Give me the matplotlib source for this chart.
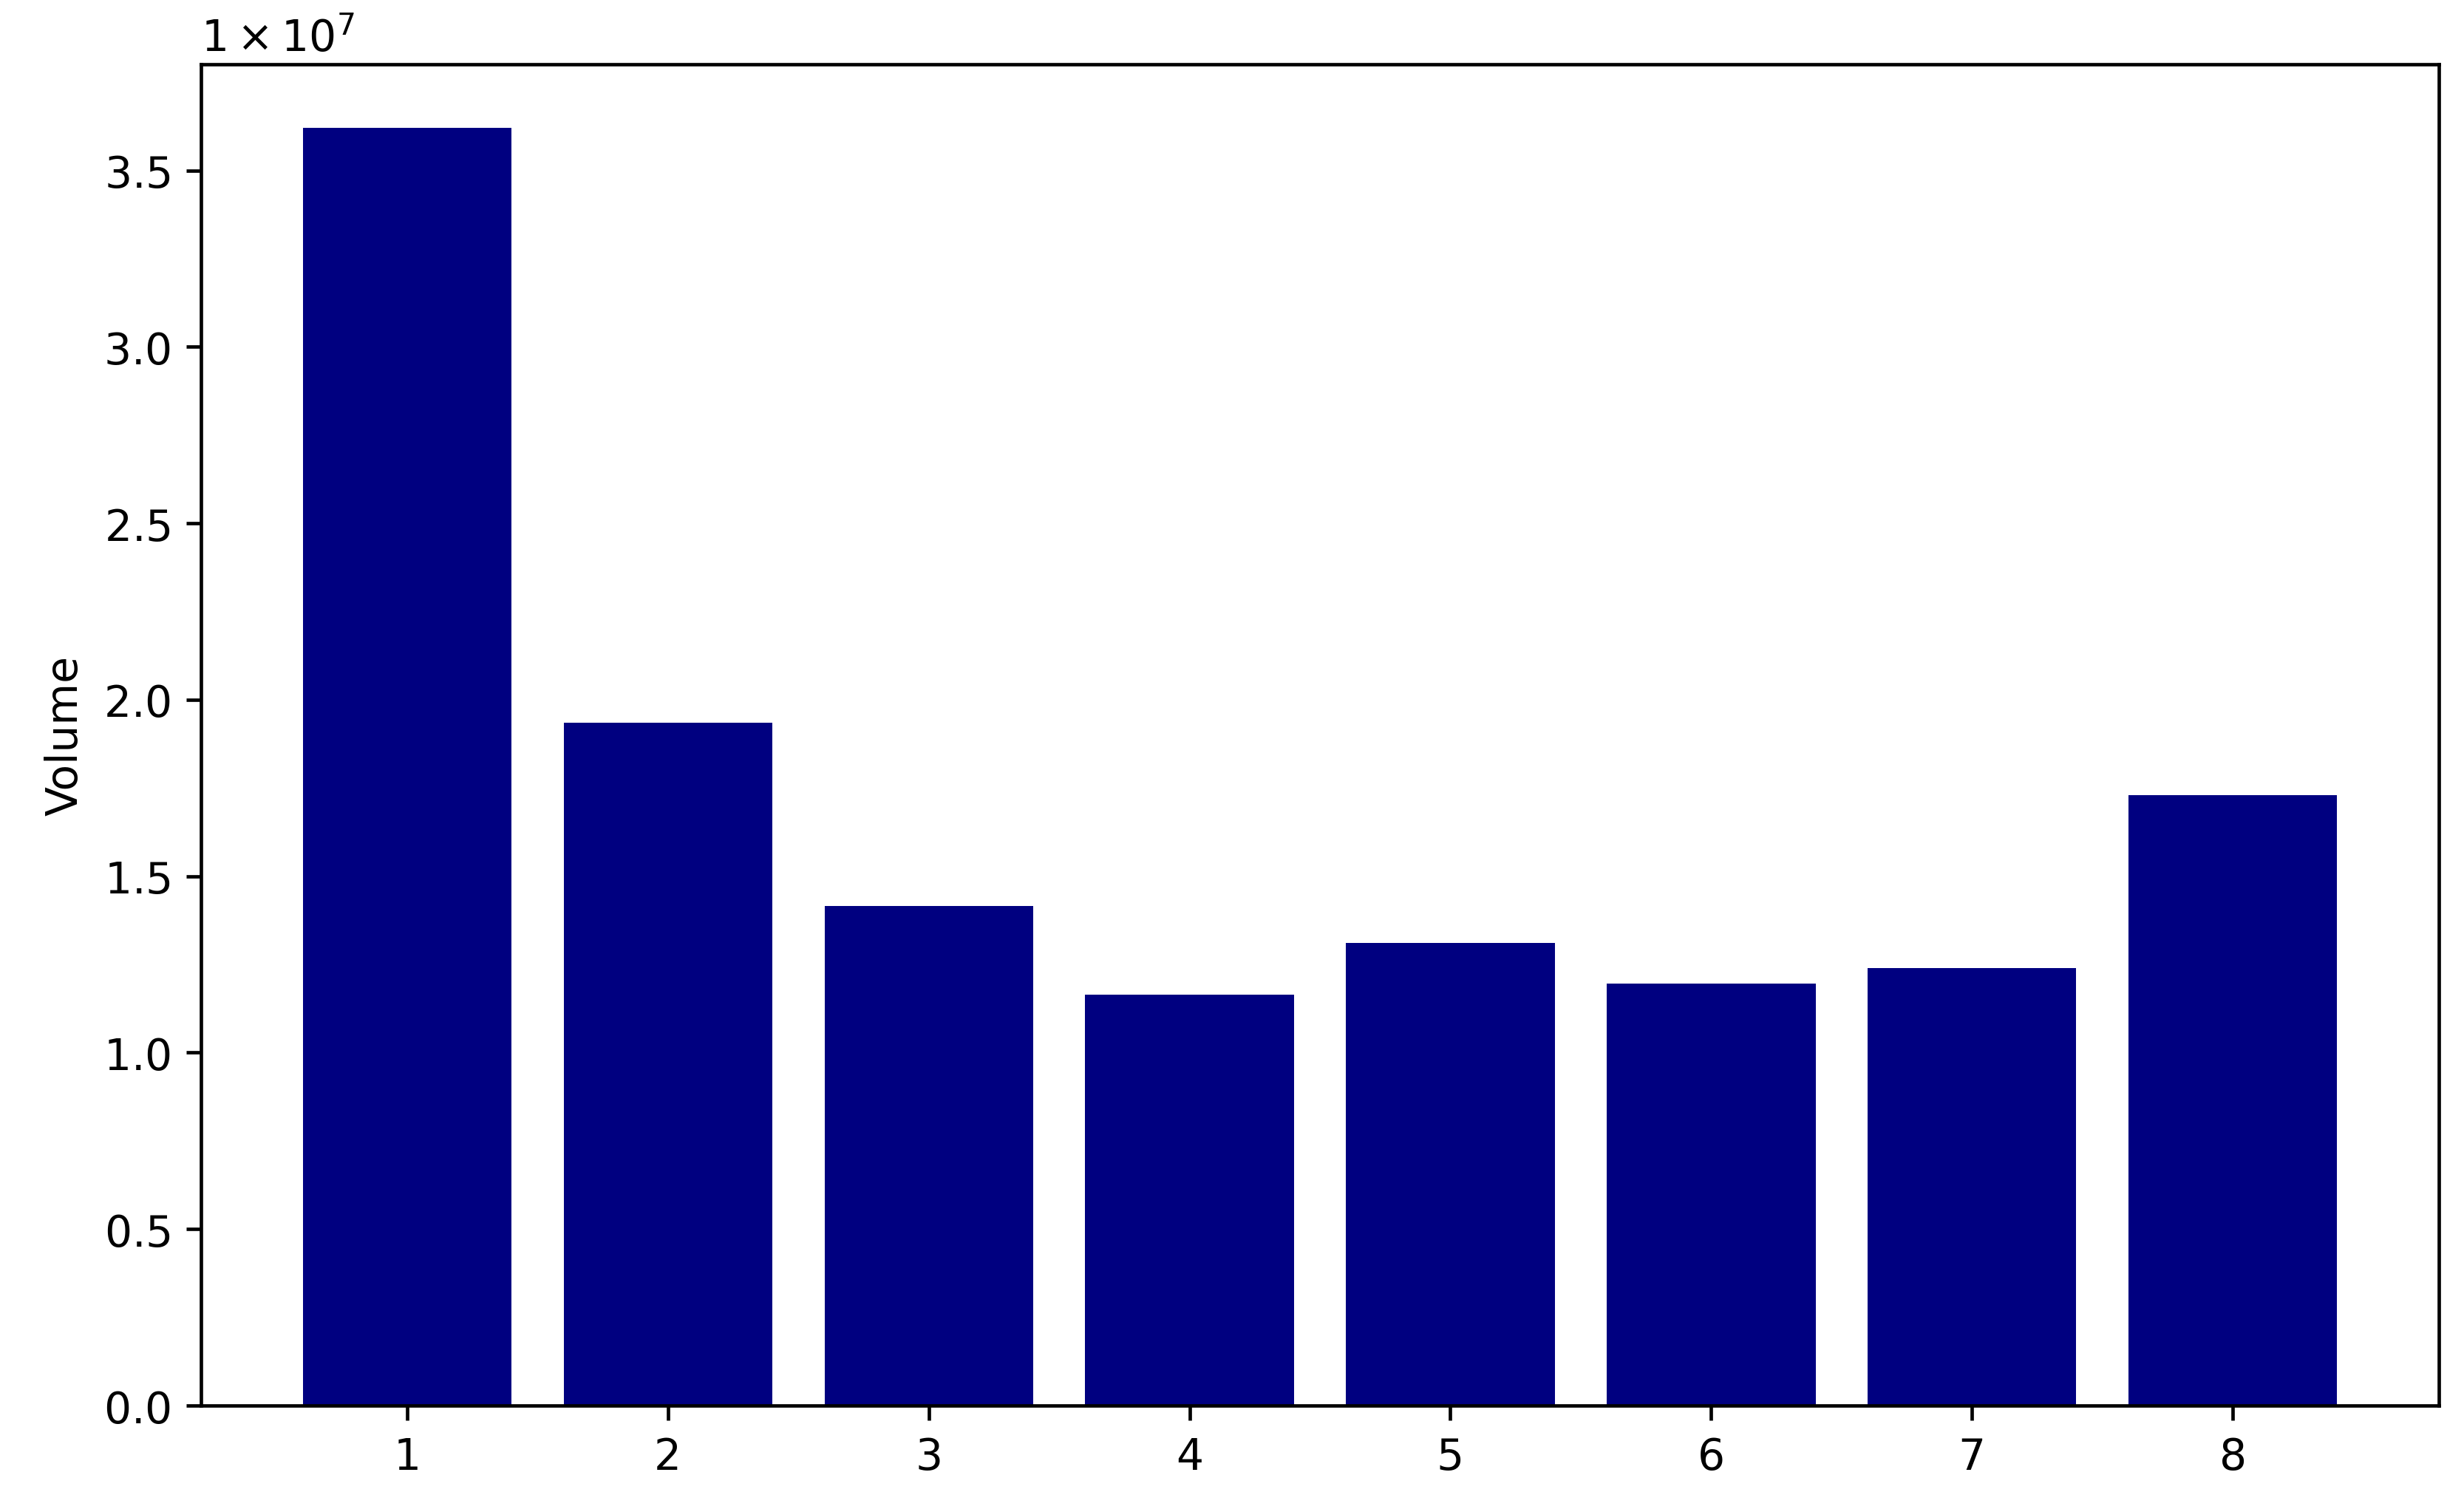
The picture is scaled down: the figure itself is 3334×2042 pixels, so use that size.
import matplotlib
matplotlib.use("Agg")
import matplotlib.pyplot as plt
from matplotlib.ticker import ScalarFormatter

categories = [1, 2, 3, 4, 5, 6, 7, 8]
volumes = [3.62e7, 1.935e7, 1.415e7, 1.165e7, 1.31e7, 1.195e7, 1.24e7, 1.729e7]
y_label = "Volume"

DPI = 420
fig = plt.figure(figsize=(3334 / DPI, 2043 / DPI), dpi=DPI)
ax = fig.add_axes([0.0816, 0.0685, 0.9898 - 0.0816, 0.957 - 0.0685])

ax.bar(categories, volumes, color="navy", width=0.8)
ax.set_xticks(categories)
ax.set_ylabel(y_label)


class OffsetFormatter(ScalarFormatter):
    def get_offset(self):
        if self.orderOfMagnitude:
            return r"$\mathdefault{1\times10^{%d}}$" % self.orderOfMagnitude
        return ""


fmt = OffsetFormatter(useMathText=True)
ax.yaxis.set_major_formatter(fmt)

fig.savefig("out.png", dpi=DPI)
